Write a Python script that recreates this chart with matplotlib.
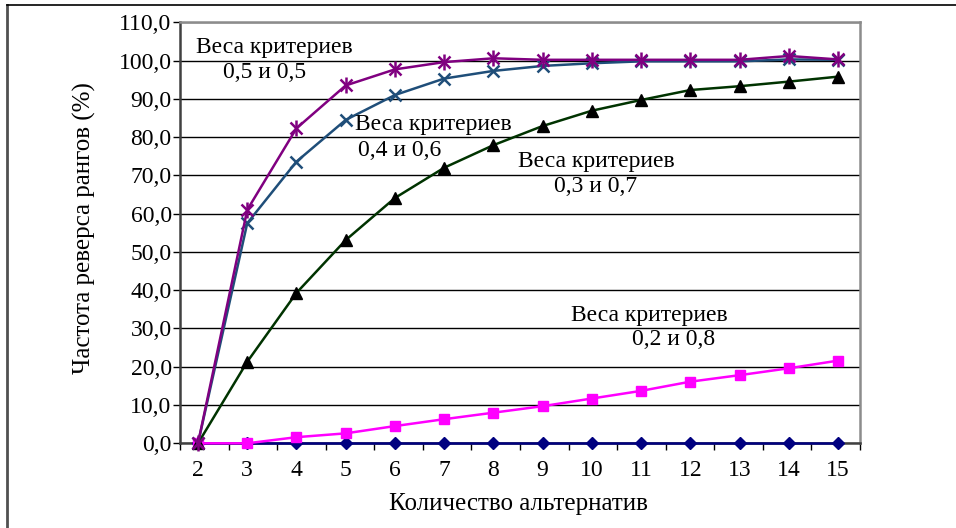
import matplotlib
matplotlib.use("Agg")
import matplotlib.pyplot as plt
import numpy as np

plt.rcParams['font.family'] = ['Liberation Serif', 'DejaVu Serif']

categories = [2, 3, 4, 5, 6, 7, 8, 9, 10, 11, 12, 13, 14, 15]
w_05 = [0, 61.0, 82.3, 93.5, 97.7, 99.6, 100.6, 100.2, 100.2, 100.2, 100.2, 100.2, 101.2, 100.3]
w_04 = [0, 57.5, 73.6, 84.5, 91.0, 95.3, 97.3, 98.6, 99.3, 99.8, 99.8, 99.8, 100.3, 100.2]
w_03 = [0, 21.3, 39.3, 53.1, 64.1, 72.0, 77.9, 82.9, 86.9, 89.7, 92.3, 93.3, 94.5, 95.8]
w_02 = [0, 0, 1.6, 2.6, 4.5, 6.3, 8.0, 9.7, 11.7, 13.7, 16.1, 17.8, 19.6, 21.6]
w_base = [0, 0, 0, 0, 0, 0, 0, 0, 0, 0, 0, 0, 0, 0]
y_ticks = [0, 10, 20, 30, 40, 50, 60, 70, 80, 90, 100, 110]
y_tick_labels = ["0,0", "10,0", "20,0", "30,0", "40,0", "50,0", "60,0", "70,0",
                 "80,0", "90,0", "100,0", "110,0"]
annotations = [
    ("Веса критериев", "0,5 и 0,5"),
    ("Веса критериев", "0,4 и 0,6"),
    ("Веса критериев", "0,3 и 0,7"),
    ("Веса критериев", "0,2 и 0,8"),
]
x_label = "Количество альтернатив"
y_label = "Частота реверса рангов (%)"

fig = plt.figure(figsize=(9.56, 5.28), dpi=100)
ax = fig.add_axes([180/956, 1 - 443.3/528, 680/956, 421/528])

x = np.arange(len(categories))
ax.set_xlim(-0.366, 13.447)
ax.set_ylim(0, 110)

ax.set_yticks(y_ticks)
ax.set_yticklabels(y_tick_labels)
ax.yaxis.grid(True, color='black', lw=1.0)
ax.set_axisbelow(True)

ax.set_xticks(x)
ax.set_xticklabels([str(c) for c in categories])
lo, hi = ax.get_xlim()
ax.set_xticks(np.linspace(lo, hi, 15), minor=True)
ax.tick_params(axis='x', which='major', length=0, labelsize=17, pad=12)
ax.tick_params(axis='x', which='minor', length=5, width=1, color='black')
ax.tick_params(axis='y', length=5, width=1, labelsize=17, pad=1)

for s in ['left', 'bottom']:
    ax.spines[s].set_color('#404040')
    ax.spines[s].set_linewidth(1.8)
for s in ['top', 'right']:
    ax.spines[s].set_color('#8c8c8c')
    ax.spines[s].set_linewidth(1.8)

lw = 1.8
ax.plot(x, w_base, color='#000080', lw=lw, marker='D', ms=6.5, mfc='#000080', mec='#000080', clip_on=False, zorder=3)
ax.plot(x, w_02, color='#FF00FF', lw=lw, marker='s', ms=7, mfc='#FF00FF', mec='#FF00FF', clip_on=False, zorder=4)
ax.plot(x, w_03, color='#003300', lw=lw, marker='^', ms=9, mfc='black', mec='black', clip_on=False, zorder=5)
ax.plot(x, w_04, color='#1F4E79', lw=lw, marker='x', ms=9, mew=1.8, mec='#1F4E79', clip_on=False, zorder=6)
ax.plot(x, w_05, color='#800080', lw=lw, marker='x', ms=9, mew=1.8, mec='#800080', clip_on=False, zorder=7)
ax.plot(x, w_05, lw=0, marker='|', ms=11, mew=1.8, mec='#800080', clip_on=False, zorder=7)

ann_pos = [((1.545, 103.5), (1.36, 97.0)),
           ((4.78, 83.2), (4.09, 76.6)),
           ((8.09, 73.5), (8.07, 67.0)),
           ((9.17, 33.3), (9.65, 27.0))]
for (t1, t2), (p1, p2) in zip(annotations, ann_pos):
    ax.text(p1[0], p1[1], t1, ha='center', va='center', fontsize=17, zorder=10)
    ax.text(p2[0], p2[1], t2, ha='center', va='center', fontsize=17, zorder=10)

fig.text(518/956, 1 - 504/528, x_label, ha='center', va='center', fontsize=18)
fig.text(84/956, 1 - 228/528, y_label, ha='center', va='center', fontsize=18, rotation=90)

# outer chart border (left and top)
fig.add_artist(plt.Line2D([6.5/956, 6.5/956], [0, 1 - 5/528], color='#505050', lw=2, transform=fig.transFigure))
fig.add_artist(plt.Line2D([6.5/956, 1], [1 - 5/528, 1 - 5/528], color='black', lw=1.2, transform=fig.transFigure))

fig.savefig("out.png", dpi=100)
